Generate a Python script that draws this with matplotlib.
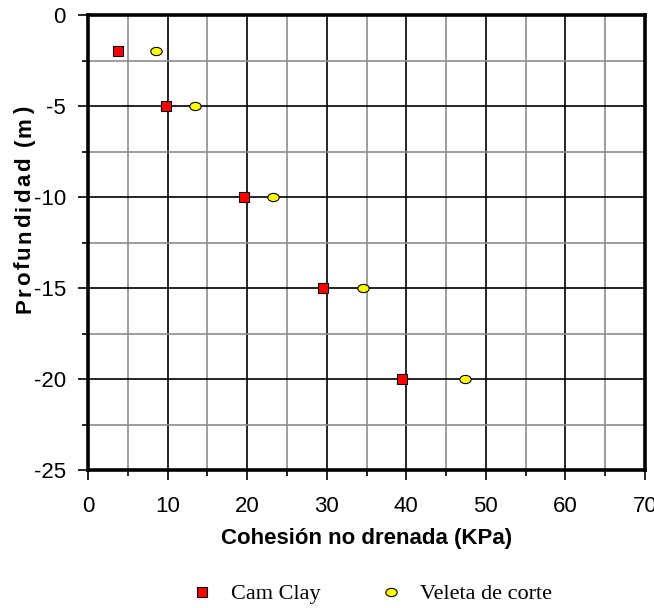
import matplotlib
matplotlib.use("Agg")
import matplotlib.pyplot as plt
from matplotlib.path import Path
from matplotlib.transforms import Affine2D
from matplotlib.ticker import MultipleLocator
from matplotlib.font_manager import FontProperties, findfont
from matplotlib.ft2font import FT2Font

# Undrained cohesion (kPa) against depth (m)
depth = [-2, -5, -10, -15, -20]
cam_clay = [3.8, 9.8, 19.6, 29.5, 39.4]
veleta = [8.5, 13.5, 23.2, 34.5, 47.4]

series_labels = ["Cam Clay", "Veleta de corte"]
x_label = "Cohesión no drenada (KPa)"
y_label = "Profundidad (m)"

plt.rcParams["font.family"] = ["Liberation Sans", "DejaVu Sans"]
plt.rcParams["axes.unicode_minus"] = False

DPI = 100
W, H = 654, 608
fig = plt.figure(figsize=(W / DPI, H / DPI), dpi=DPI)
ax = fig.add_axes([88 / W, 1 - 470 / H, 557 / W, 455 / H])

# slightly wide ellipse marker for the vane-shear points
ellipse = Path.unit_circle().transformed(Affine2D().scale(1.0, 0.72))

ax.plot(cam_clay, depth, linestyle="none", marker="s", markersize=7.2,
        markerfacecolor="#ff0000", markeredgecolor="black",
        markeredgewidth=0.8, label=series_labels[0], zorder=5, clip_on=False)
ax.plot(veleta, depth, linestyle="none", marker=ellipse, markersize=8.2,
        markerfacecolor="#ffff00", markeredgecolor="black",
        markeredgewidth=0.8, label=series_labels[1], zorder=5, clip_on=False)

ax.set_xlim(0, 70)
ax.set_ylim(-25, 0)
ax.xaxis.set_major_locator(MultipleLocator(10))
ax.xaxis.set_minor_locator(MultipleLocator(5))
ax.yaxis.set_major_locator(MultipleLocator(5))
ax.yaxis.set_minor_locator(MultipleLocator(2.5))

ax.grid(which="major", color="black", linewidth=1.2)
ax.grid(which="minor", color="#8c8c8c", linewidth=1.2)
ax.set_axisbelow(True)

for sp in ax.spines.values():
    sp.set_linewidth(2.6)
    sp.set_color("black")

ax.tick_params(which="major", direction="out", length=7, width=1.2,
               labelsize=16, color="black")
ax.tick_params(which="minor", direction="out", length=4.5, width=1.2,
               color="black")
ax.tick_params(axis="y", which="major", pad=9)
ax.tick_params(axis="x", which="major", pad=12)

ax.set_xlabel(x_label, fontsize=16, fontweight="bold")
ax.xaxis.set_label_coords(0.5, -0.128)

# letter-spaced depth label, set glyph by glyph along a vertical baseline
ylab_size = 16
ylab_prop = FontProperties(family="Liberation Sans", weight="bold", size=ylab_size)
ft = FT2Font(findfont(ylab_prop))
ft.set_size(ylab_size, DPI)
advances = [ft.load_char(ord(c)).linearHoriAdvance / 65536.0 for c in y_label]
tracking = 0.11 * ylab_size * DPI / 72.0
total = sum(advances) + tracking * (len(y_label) - 1)
centre_y = H - 210
baseline_x = 30
pos = centre_y - total / 2.0
for c, adv in zip(y_label, advances):
    fig.text(baseline_x / W, pos / H, c, rotation=90, rotation_mode="anchor",
             ha="left", va="baseline", fontproperties=ylab_prop)
    pos += adv + tracking

handles, labels = ax.get_legend_handles_labels()
fig.legend(handles, labels, loc="center", bbox_to_anchor=(0.568, 1 - 594 / H),
           ncol=2, frameon=False, markerscale=1.0, handlelength=1.0,
           handletextpad=0.8, columnspacing=2.7,
           prop={"family": "Liberation Serif", "size": 16})

fig.savefig("out.png", dpi=DPI)
